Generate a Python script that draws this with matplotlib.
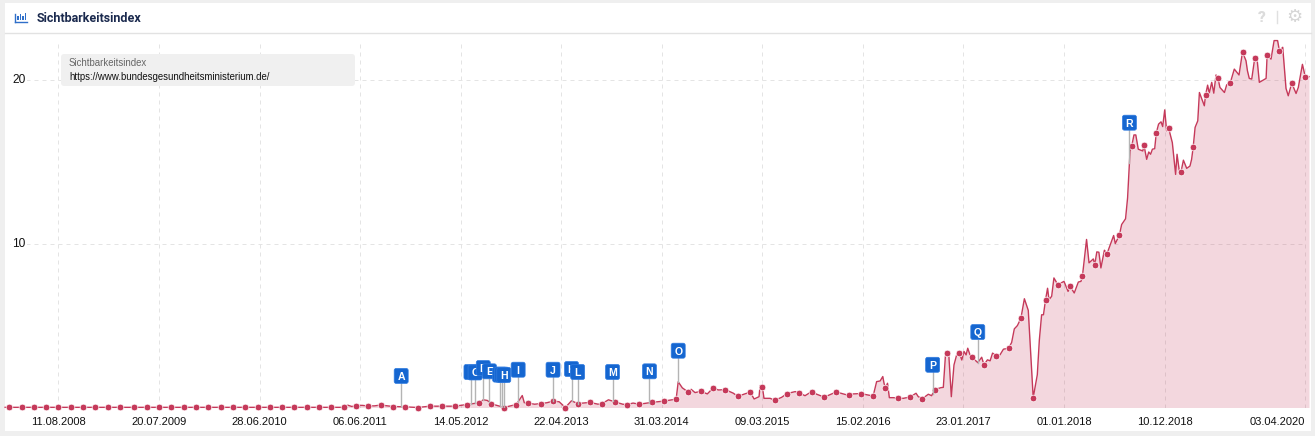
import matplotlib
matplotlib.use('Agg')
import matplotlib.pyplot as plt
from matplotlib.patches import FancyBboxPatch, Rectangle
import numpy as np
import pandas as pd

plt.rcParams['font.family'] = ['Liberation Sans', 'DejaVu Sans']

# x values are weeks counted from 11.08.2008
start_date = '2008-08-11'
tick_dates = ['2008-08-11', '2009-07-20', '2010-06-28', '2011-06-06', '2012-05-14', '2013-04-22',
              '2014-03-31', '2015-03-09', '2016-02-15', '2017-01-23', '2018-01-01', '2018-12-10',
              '2020-04-03']
tick_labels = ['11.08.2008', '20.07.2009', '28.06.2010', '06.06.2011', '14.05.2012', '22.04.2013',
               '31.03.2014', '09.03.2015', '15.02.2016', '23.01.2017', '01.01.2018', '10.12.2018',
               '03.04.2020']
y_ticks = [10, 20]

# dotted samples, every six weeks
marker_weeks = list(range(-24, 31, 6)) + list(range(37, 602, 6)) + [607.57]
marker_vals = [0.01, 0.01, 0.01, 0.01, 0.01, 0.01, 0.01, 0.01, 0.01, 0.01,
               0.01, 0.01, 0.01, 0.01, 0.01, 0.01, 0.01, 0.01, 0.01, 0.01,
               0.01, 0.01, 0.01, 0.01, 0.01, 0.01, 0.01, 0.01, 0.12, 0.09,
               0.15, 0.06, 0.04, 0.0, 0.08, 0.08, 0.08, 0.18, 0.29, 0.22,
               0.0, 0.18, 0.27, 0.24, 0.39, 0.0, 0.24, 0.31, 0.24, 0.35,
               0.18, 0.2, 0.31, 0.39, 0.51, 0.93, 0.99, 1.19, 1.09, 0.68,
               0.95, 1.28, 0.44, 0.85, 0.89, 0.97, 0.64, 0.95, 0.74, 0.85,
               0.7, 1.19, 0.56, 0.64, 0.54, 1.09, 3.34, 3.34, 3.09, 2.6,
               3.17, 3.62, 5.44, 0.6, 6.56, 7.5, 7.4, 8.03, 8.72, 9.4,
               10.52, 15.95, 16.0, 16.77, 17.05, 14.36, 15.93, 19.07, 20.13, 19.8,
               21.7, 21.36, 21.5, 21.77, 19.8, 20.2]

# the weekly wiggles between the dots
extra_weeks = [-26, 141, 143, 148, 154, 207, 209, 215, 224, 226, 227, 232, 238, 244, 250,
               263, 268, 275, 280, 302, 304, 308.3, 310.2, 316.2, 321.6, 328.9, 335.4, 339, 341.4,
               341.9, 343.8, 346.8, 352.4, 359, 363.8, 369.5, 375.2, 387.4, 398.7, 400.4, 401.7,
               402.3, 404, 404.9, 406.9, 411.7, 417.9, 419, 423.9, 425.5, 430, 431.2, 432.2,
               433.8, 435.1, 436.4, 437.7, 440.2, 441.3, 442.3, 443.1, 444.2, 448, 449.9, 452.7,
               454, 455.2, 458.8, 460.5, 464.5, 465.8, 467.3, 470.7, 472.6, 474.3, 477, 478,
               479.1, 480, 482, 482.7, 484, 485.1, 490, 492, 495, 497, 498.3, 501, 502.2, 504.3,
               506, 507, 508, 509.7, 514.2, 515, 518.1, 520, 521, 522.2, 524.1, 525, 526.2, 528.4,
               530.3, 531.3, 532.2, 533.1, 534.2, 536.1, 537.3, 538.1, 539.1, 540, 542.8, 544.4,
               545.1, 546.2, 548.2, 549.8, 551.4, 552.2, 553.9, 555.2, 556, 558.4, 560, 560.8,
               562, 563, 564.1, 566, 568.2, 569.3, 573, 575.3, 578.7, 579.4, 580.3, 581.5, 584.2,
               585.2, 588.5, 590.9, 592.4, 594.1, 596.6, 598.2, 599.3, 603.1, 604.2, 606.2, 609.4]
extra_vals = [0.01, 0.14, 0.06, 0.13, 0.1, 0.47, 0.43, 0.08, 0.35, 0.73, 0.29, 0.2, 0.29, 0.35, 0.41,
              0.2, 0.47, 0.2, 0.27, 1.57, 1.2, 1.11, 0.91, 0.83, 1.07, 0.87, 0.87, 0.52, 0.66,
              1.34, 0.56, 0.56, 0.62, 0.97, 0.72, 0.81, 0.74, 0.83, 1.58, 1.62, 1.89,
              1.48, 1.48, 0.6, 0.6, 0.56, 0.87, 0.66, 0.81, 0.72, 1.21, 1.23, 3.11,
              3.36, 0.66, 2.6, 3.21, 2.9, 3.42, 3.21, 3.62, 3.21, 2.74, 3.07, 2.91,
              2.85, 3.32, 3.21, 3.56, 3.97, 4.8, 5.0, 6.64, 5.93, 2.09, 2.0, 4.13,
              5.66, 5.66, 7.28, 6.58, 6.79, 7.91, 7.7, 7.09, 6.99, 7.66, 7.7, 10.26, 8.83, 9.07,
              9.5, 9.48, 8.52, 9.6, 10.5, 10.01, 11.17, 11.52, 12.8, 15.66, 16.64, 16.64, 15.77, 15.66,
              15.15, 15.6, 15.46, 15.77, 15.8, 17.3, 17.44, 17.15, 18.17, 16.9, 16.17, 14.23,
              15.46, 14.44, 15.1, 14.6, 14.74, 15.15, 17.1, 17.5, 19.23, 18.42, 19.68, 19.19,
              19.85, 19.19, 20.3, 19.54, 19.23, 19.7, 20.66, 20.3, 21.17, 20.56, 20.09, 20.05, 21.15,
              19.85, 20.09, 21.27, 22.4, 22.4, 21.99, 19.48, 19.03, 19.17, 19.54, 20.95, 20.2]

flag_names = ['A', 'B', 'C', 'D', 'E', 'F', 'G', 'H', 'I', 'J', 'K', 'L', 'M', 'N', 'O', 'P', 'Q', 'R']
flag_weeks = [167, 201, 203, 207, 210, 215, 216, 217, 224, 241, 250, 253, 270, 288, 302, 426, 448, 521.9]
flag_bottoms = [1.47, 1.71, 1.68, 1.95, 1.75, 1.55, 1.55, 1.53, 1.85, 1.85, 1.89, 1.71, 1.71, 1.75,
                3.01, 2.15, 4.15, 16.93]

WIDTH, HEIGHT = 1315, 436
PX_WEEK = 2.052
PX_UNIT = 16.38
X0, Y0 = 58.5, 407.5
LINE = '#c5395a'
GRID = '#e4e4e4'


def px_to_week(px):
    return (px - X0) / PX_WEEK


def px_to_val(px):
    return (Y0 - px) / PX_UNIT


def pixel_axes(zorder):
    a = fig.add_axes([0, 0, 1, 1], zorder=zorder)
    a.set_xlim(0, WIDTH)
    a.set_ylim(HEIGHT, 0)
    a.axis('off')
    return a


fig = plt.figure(figsize=(WIDTH / 100, HEIGHT / 100), dpi=100, facecolor='#efefef')

# card and header
bg = pixel_axes(0)
bg.add_patch(Rectangle((5, 3), 1306, 428, fc='white', ec='none'))
grad = np.linspace(1.0, 0.96, 30).reshape(-1, 1)
bg.imshow(grad, extent=(5, 1311, 33, 3), cmap='gray', vmin=0, vmax=1, aspect='auto')
bg.set_xlim(0, WIDTH)
bg.set_ylim(HEIGHT, 0)
bg.plot([5, 1311], [33.5, 33.5], color='#e2e2e2', lw=1)
for bx, bh in zip([18, 20.5, 23, 25.5], [4, 6, 4, 7]):
    bg.add_patch(Rectangle((bx - 0.7, 20.5 - bh), 1.4, bh, fc='#2f6fc9', ec='none'))
bg.plot([15.5, 27], [21.8, 21.8], color='#2f6fc9', lw=1)
bg.plot([15.5, 15.5], [14, 21.8], color='#2f6fc9', lw=1)
bg.text(37, 18.5, 'Sichtbarkeitsindex', family='Roboto', fontweight='bold', fontsize=9.0,
        color='#1b2a4e', va='center', ha='left')
bg.text(1261.5, 18.5, '?', family='Roboto', fontweight='black', fontsize=11, color='#dcdcdc',
        va='center', ha='center')
bg.plot([1277.5, 1277.5], [11, 23], color='#e0e0e0', lw=1)
bg.text(1294, 17.5, '\u2699', family='DejaVu Sans', fontweight='bold', fontsize=13, color='#d6d6d6',
        va='center', ha='center')

# chart
top_val = px_to_val(34)
ax = fig.add_axes([5 / WIDTH, 1 - Y0 / HEIGHT, 1306 / WIDTH, (Y0 - 34) / HEIGHT], zorder=1)
ax.patch.set_visible(False)
ax.set_xlim(px_to_week(5), px_to_week(1311))
ax.set_ylim(0, top_val)
for s in ax.spines.values():
    s.set_visible(False)

tick_weeks = (pd.to_datetime(tick_dates) - pd.Timestamp(start_date)).days.values / 7.0
ax.vlines(tick_weeks, 0, px_to_val(42), color=GRID, lw=0.72, linestyles=(0, (4, 4)), zorder=1)
ax.hlines(y_ticks, px_to_week(10), tick_weeks[-1], color=GRID, lw=0.72, linestyles=(0, (4, 4)), zorder=1)

line_w = np.array(marker_weeks + extra_weeks, dtype=float)
line_v = np.array(marker_vals + extra_vals, dtype=float)
order = np.argsort(line_w, kind='stable')
line_w = line_w[order]
line_v = line_v[order]

ax.fill_between(line_w, 0, line_v, color=LINE, alpha=0.2, lw=0, zorder=2)
ax.plot(line_w, line_v, color=LINE, lw=1.0, zorder=3, clip_on=False)
ax.plot(marker_weeks, marker_vals, ls='none', marker='o', ms=4.8, mfc=LINE, mec='white', mew=0.5,
        zorder=4, clip_on=False)

ax.set_xticks(tick_weeks)
ax.set_xticklabels(tick_labels, fontsize=8, color='#111111')
ax.get_xticklabels()[-1].set_ha('right')
ax.tick_params(axis='x', length=0, pad=6.5)
ax.set_yticks([])

# event flags, later ones cover earlier ones
box_w = 14 / PX_WEEK
box_h = 15 / PX_UNIT
for i, (name, fw, fb) in enumerate(zip(flag_names, flag_weeks, flag_bottoms)):
    base = np.interp(fw, line_w, line_v)
    z = 6 + i * 0.1
    ax.plot([fw, fw], [base, fb], color='#b4b4b4', lw=1, zorder=5)
    ax.add_patch(FancyBboxPatch((fw - box_w / 2, fb), box_w, box_h,
                                boxstyle='round,pad=0,rounding_size=%f' % (2 / PX_WEEK),
                                mutation_aspect=PX_WEEK / PX_UNIT, fc='#1566d0', ec='#2f7be0', lw=0.5,
                                zorder=z, clip_on=False))
    ax.text(fw, fb + box_h / 2, name, color='white', fontsize=7.6, fontweight='bold',
            ha='center', va='center_baseline', zorder=z + 0.01)

# y labels and series box sit on top of the grid
over = pixel_axes(2)
for v in y_ticks:
    py = Y0 - v * PX_UNIT
    over.text(19, py, str(v), fontsize=8.6, color='#111111', ha='center', va='center',
              bbox=dict(fc='white', ec='none', pad=0.8))
over.add_patch(FancyBboxPatch((61, 54), 294, 32, boxstyle='round,pad=0,rounding_size=3',
                              fc='#f0f0f0', ec='none'))
over.text(69, 63.5, 'Sichtbarkeitsindex', fontsize=6.9, color='#666666', va='center', ha='left')
over.text(69, 76.5, 'https://www.bundesgesundheitsministerium.de/', fontsize=6.9, color='#111111',
          va='center', ha='left')

fig.savefig('out.png', dpi=100, facecolor=fig.get_facecolor())
